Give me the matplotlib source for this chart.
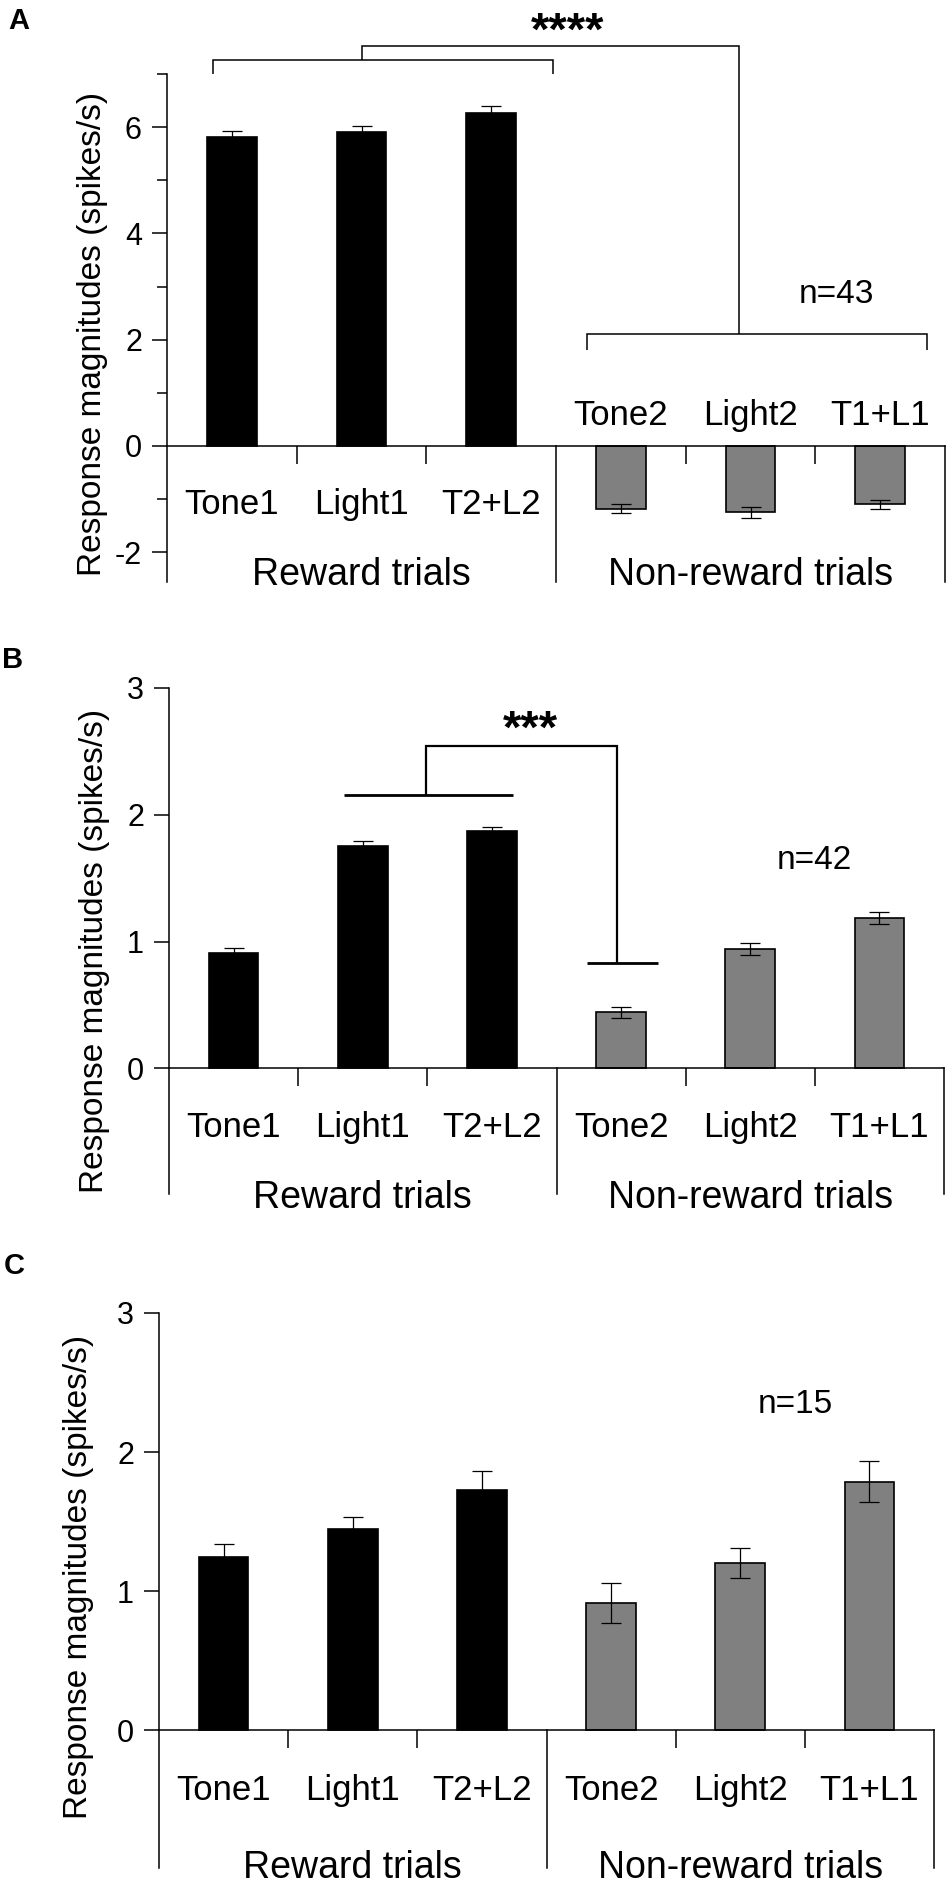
import matplotlib
matplotlib.use("Agg")
import matplotlib.pyplot as plt
from matplotlib.ticker import MultipleLocator

plt.rcParams['font.family'] = ['Liberation Sans', 'DejaVu Sans']

categories = ["Tone1", "Light1", "T2+L2", "Tone2", "Light2", "T1+L1"]
groups = ["Reward trials", "Non-reward trials"]

values_a = [5.82, 5.91, 6.26, -1.18, -1.25, -1.10]
errors_a = [0.11, 0.12, 0.14, 0.09, 0.10, 0.09]
values_b = [0.913, 1.755, 1.869, 0.443, 0.944, 1.188]
errors_b = [0.034, 0.040, 0.036, 0.045, 0.047, 0.046]
values_c = [1.246, 1.446, 1.725, 0.915, 1.203, 1.788]
errors_c = [0.09, 0.09, 0.14, 0.145, 0.11, 0.15]

n_labels = ["n=43", "n=42", "n=15"]
sig_labels = ["****", "***"]

BLACK = "#000000"
GRAY = "#808080"
colors = [BLACK, BLACK, BLACK, GRAY, GRAY, GRAY]

W, H = 947, 1891
fig = plt.figure(figsize=(W / 100, H / 100), dpi=100)


def make_ax(left, right, top, bottom):
    return fig.add_axes([left / W, 1 - bottom / H, (right - left) / W, (bottom - top) / H])


def base_panel(ax, vals, errs, ylim, major, minor, cat_y, cat_y_above, group_y):
    x = list(range(len(categories)))
    ax.bar(x, vals, width=0.385, color=colors, edgecolor=BLACK, linewidth=1.2, zorder=2)
    ax.errorbar(x, vals, yerr=errs, fmt='none', ecolor=BLACK, elinewidth=0.9,
                capsize=7, capthick=0.9, zorder=3)
    ax.set_xlim(-0.5, 5.5)
    ax.set_ylim(*ylim)
    for s in ['top', 'right']:
        ax.spines[s].set_visible(False)
    ax.spines['left'].set_linewidth(1.1)
    ax.spines['bottom'].set_position(('data', 0))
    ax.spines['bottom'].set_linewidth(1.1)
    ax.set_xticks([0.5, 1.5, 3.5, 4.5])
    ax.set_xticklabels([])
    ax.tick_params(axis='x', direction='out', length=13, width=1.1)
    ax.yaxis.set_major_locator(MultipleLocator(major))
    if minor:
        ax.yaxis.set_minor_locator(MultipleLocator(minor))
        ax.tick_params(axis='y', which='minor', length=7, width=1.1)
    ax.tick_params(axis='y', which='major', length=11, width=1.1, labelsize=22, pad=7)
    ax.set_yticks([t for t in ax.get_yticks() if ylim[0] <= t <= ylim[1] + 1e-9])
    ax.set_yticklabels([str(int(t)) if t >= 0 else "-" + str(int(-t)) for t in ax.get_yticks()])
    # group separators
    for gx in [2.5, 5.5]:
        ax.plot([gx, gx], [0, ylim[0]], color=BLACK, lw=1.1, clip_on=False, zorder=1)
    for i, lab in enumerate(categories):
        yy = cat_y_above if (cat_y_above is not None and vals[i] < 0) else cat_y
        ax.text(i, yy, lab, ha='center', va='baseline', fontsize=25)
    ax.text(1.0, group_y, groups[0], ha='center', va='baseline', fontsize=27)
    ax.text(4.0, group_y, groups[1], ha='center', va='baseline', fontsize=27)


def ylab(xp, yp):
    fig.text(xp / W, 1 - yp / H, "Response magnitudes (spikes/s)", rotation=90,
             ha='center', va='center', fontsize=24)


def brk(ax, xs, ys, lw=1.1):
    ax.plot(xs, ys, color=BLACK, lw=lw, clip_on=False, solid_joinstyle='miter',
            solid_capstyle='butt', zorder=4)


# ---------------- Panel A ----------------
axA = make_ax(167, 945, 74, 582)
base_panel(axA, values_a, errors_a, (-2.56, 7), 2, 1, -1.28, 0.40, -2.62)
brk(axA, [-0.148, -0.148, 2.476, 2.476], [7.0, 7.27, 7.27, 7.0])
brk(axA, [1.0, 1.0, 3.91, 3.91], [7.27, 7.52, 7.52, 2.10])
brk(axA, [2.74, 2.74, 5.36, 5.36], [1.80, 2.10, 2.10, 1.80])
axA.text(2.59, 7.55, sig_labels[0], ha='center', va='baseline', fontsize=34,
         fontweight='bold')
axA.text(4.66, 2.69, n_labels[0], ha='center', va='baseline', fontsize=24)
ylab(92, 334)
fig.text(19 / W, 1 - 21 / H, "A", ha='center', va='center', fontsize=21, fontweight='bold')

# ---------------- Panel B ----------------
axB = make_ax(169, 944, 688, 1194)
base_panel(axB, values_b, errors_b, (-0.99, 3), 1, None, -0.54, None, -1.10)
brk(axB, [0.855, 2.16], [2.157, 2.157], lw=2.0)
brk(axB, [1.49, 1.49, 2.97, 2.97], [2.157, 2.546, 2.546, 0.835], lw=1.6)
brk(axB, [2.735, 3.285], [0.835, 0.835], lw=2.0)
axB.text(2.30, 2.57, sig_labels[1], ha='center', va='baseline', fontsize=34,
         fontweight='bold')
axB.text(4.50, 1.575, n_labels[1], ha='center', va='baseline', fontsize=24)
ylab(94, 951)
fig.text(13 / W, 1 - 660 / H, "B", ha='center', va='center', fontsize=21, fontweight='bold')

# ---------------- Panel C ----------------
axC = make_ax(159, 934, 1313, 1868)
base_panel(axC, values_c, errors_c, (-0.99, 3), 1, None, -0.50, None, -1.06)
axC.text(4.43, 2.28, n_labels[2], ha='center', va='baseline', fontsize=24)
ylab(78, 1577)
fig.text(14 / W, 1 - 1266 / H, "C", ha='center', va='center', fontsize=21, fontweight='bold')

fig.savefig("out.png", dpi=100)
